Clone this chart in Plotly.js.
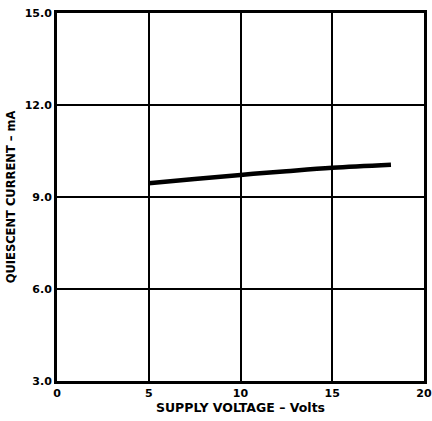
<!DOCTYPE html>
<html>
<head>
<meta charset="utf-8">
<script src="https://cdn.plot.ly/plotly-3.0.1.min.js"></script>
<style>html,body{margin:0;padding:0;background:#fff;}#chart{width:432px;height:421px;}</style>
</head>
<body>
<div id="chart"></div>
<script>
const supplyVoltage = [5, 7.5, 10, 12.5, 15, 18.2];
const quiescentCurrent = [9.45, 9.59, 9.72, 9.84, 9.95, 10.05];
const xTicks = [0, 5, 10, 15, 20];
const yTicks = [3, 6, 9, 12, 15];
const yTickLabels = ["3.0", "6.0", "9.0", "12.0", "15.0"];

const font = {family: "DejaVu Sans, Liberation Sans, Arial, sans-serif", color: "#000"};

Plotly.newPlot("chart", [{
  x: supplyVoltage,
  y: quiescentCurrent,
  mode: "lines",
  line: {color: "#000", width: 4.5, shape: "spline"},
  hoverinfo: "skip"
}], {
  width: 432, height: 421,
  margin: {l: 57, r: 8, t: 13, b: 40},
  paper_bgcolor: "#fff", plot_bgcolor: "#fff",
  showlegend: false,
  xaxis: {
    range: [0, 20], tickvals: xTicks, ticktext: xTicks.map(String),
    showgrid: true, gridcolor: "#000", gridwidth: 2,
    showline: true, linecolor: "#000", linewidth: 3, mirror: true,
    zeroline: false, ticks: "", ticklen: 0,
    tickfont: Object.assign({size: 11, weight: "bold"}, font),
    title: {text: "SUPPLY VOLTAGE – Volts", font: Object.assign({size: 12.5, weight: "bold"}, font), standoff: 5}
  },
  yaxis: {
    range: [3, 15], tickvals: yTicks, ticktext: yTickLabels,
    showgrid: true, gridcolor: "#000", gridwidth: 2,
    showline: true, linecolor: "#000", linewidth: 3, mirror: true,
    zeroline: false, ticks: "", ticklen: 0,
    tickfont: Object.assign({size: 11, weight: "bold"}, font),
    title: {text: "QUIESCENT CURRENT – mA", font: Object.assign({size: 11.5, weight: "bold"}, font), standoff: 7}
  }
}, {staticPlot: true, displayModeBar: false});
</script>
</body>
</html>
